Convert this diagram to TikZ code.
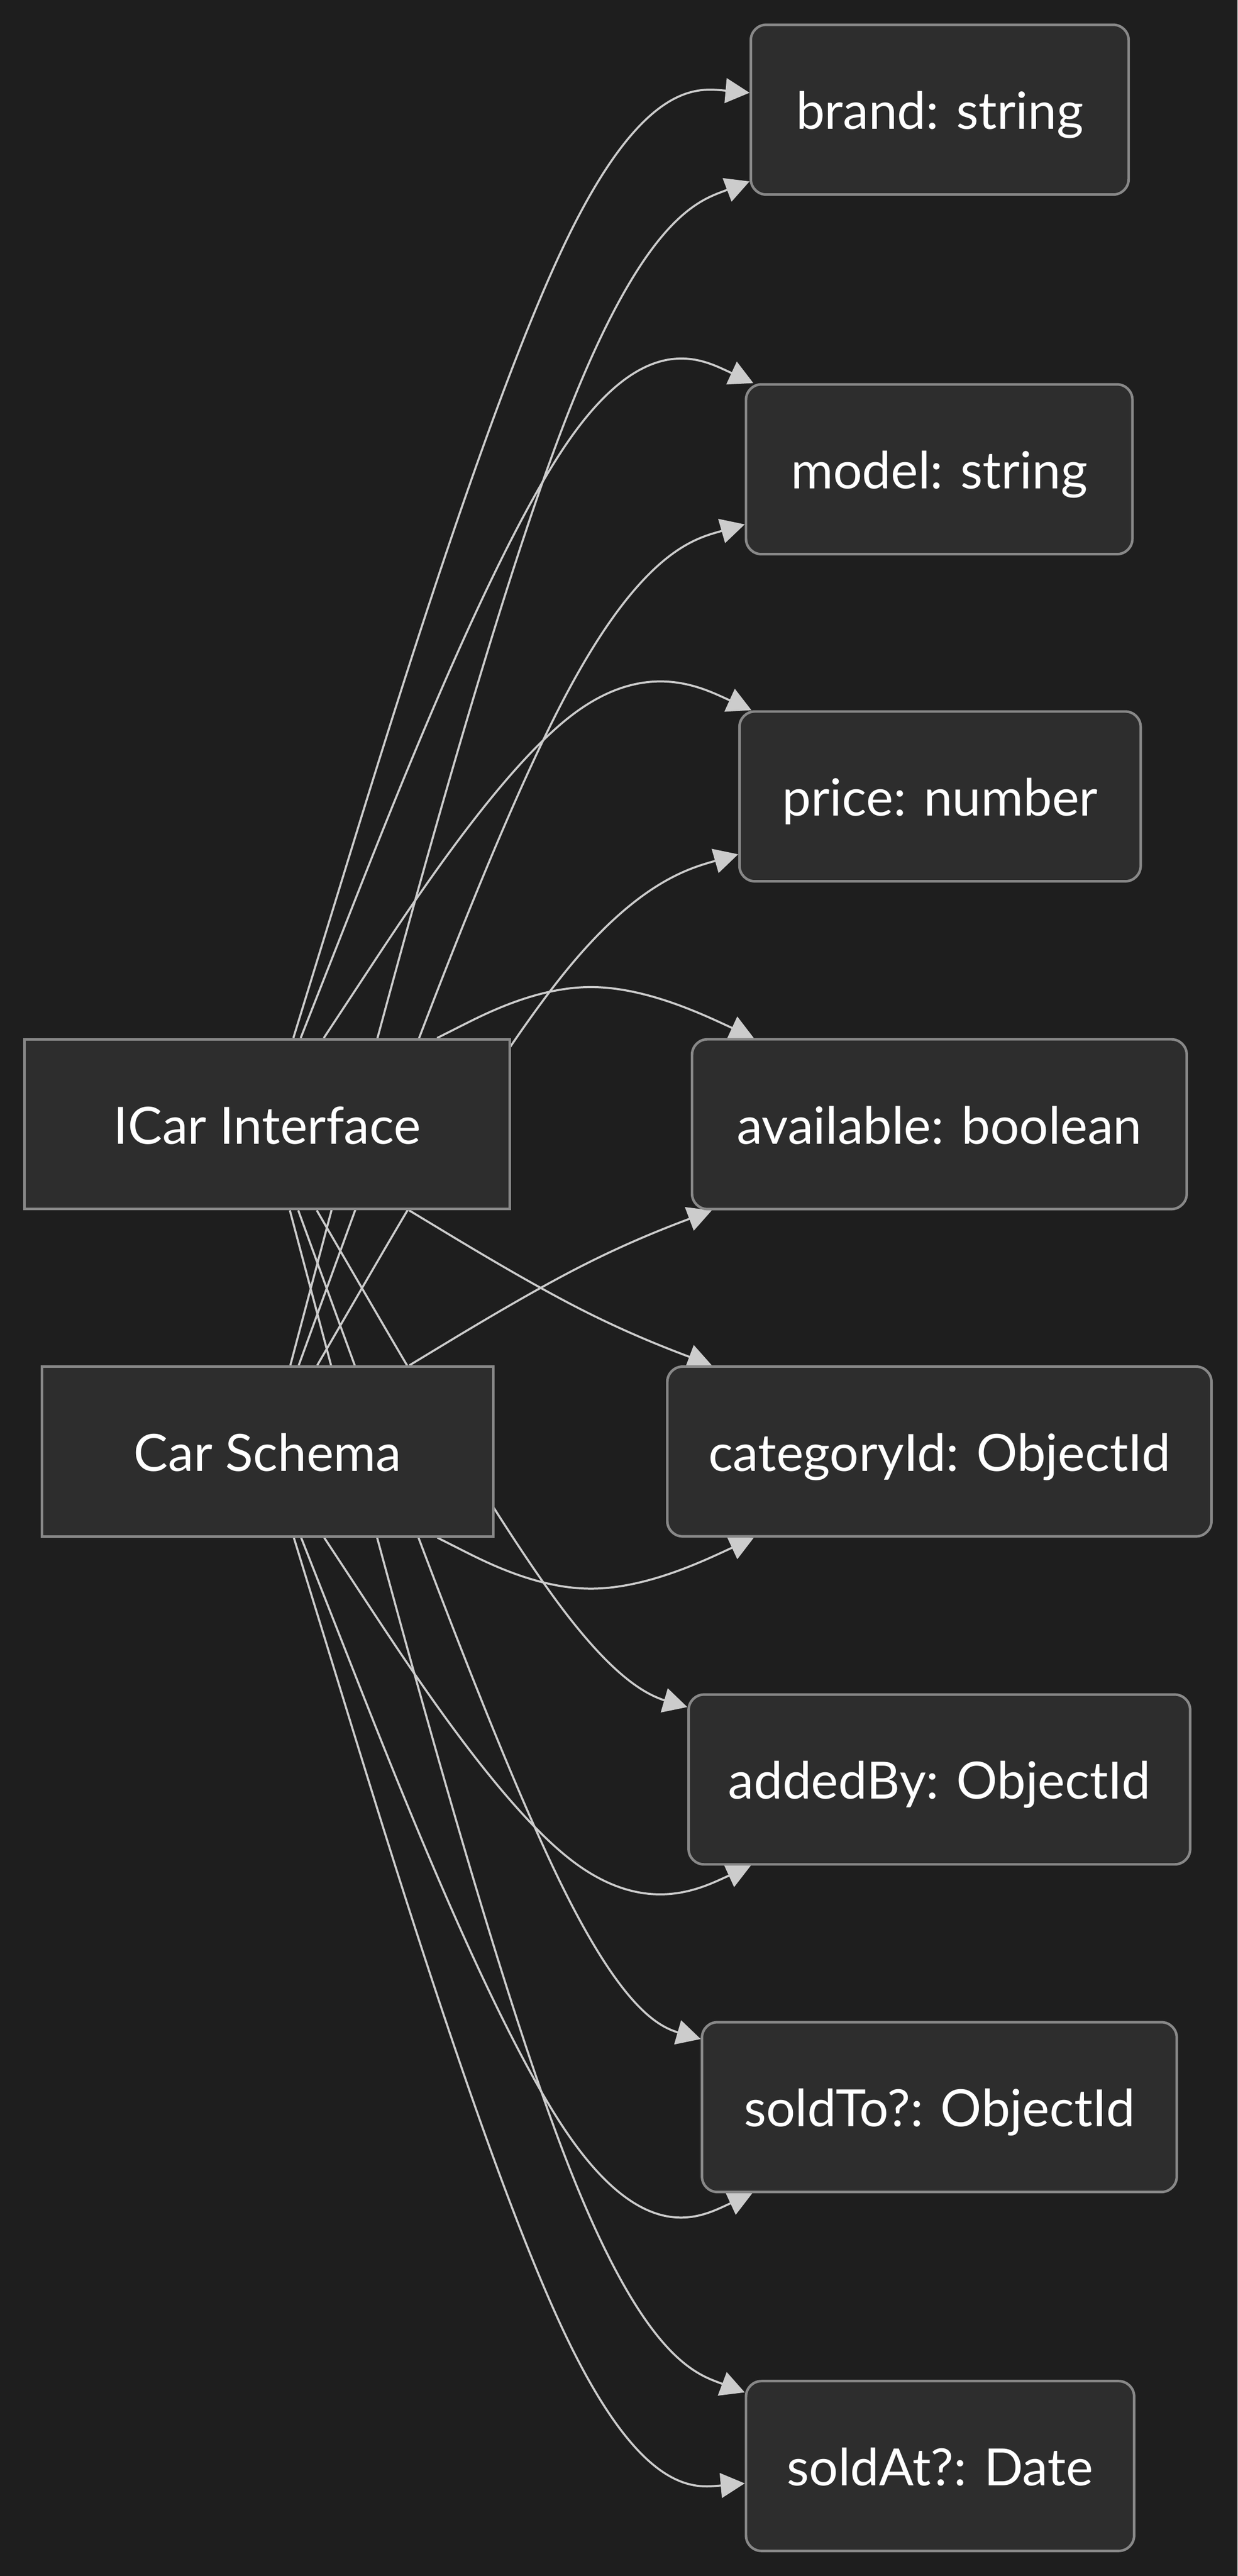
\documentclass[tikz,border=0pt]{standalone}
\usepackage{fontspec}
\setmainfont{Lato}
\usetikzlibrary{calc,arrows.meta}

\definecolor{canvasbg}{HTML}{1E1E1E}
\definecolor{boxfill}{HTML}{2D2D2D}
\definecolor{boxline}{HTML}{888888}
\definecolor{linkline}{HTML}{CCCCCC}

\pgfdeclarelayer{canvas}
\pgfdeclarelayer{links}
\pgfsetlayers{canvas,links,main}

\begin{document}
\begin{tikzpicture}[
    box/.style={draw=boxline,fill=boxfill,line width=2.1pt,text=white,
      minimum height=4.94cm,inner sep=0pt,text height=1.3cm,text depth=0.16cm,
      font=\fontsize{42.5pt}{51pt}\selectfont},
    field/.style={box,rounded corners=0.45cm},
    link/.style={draw=linkline,line width=1.7pt,
      -{Triangle[length=0.7cm,width=0.72cm]}},
  ]
  \begin{pgfonlayer}{canvas}
    \fill[canvasbg] (0,0) rectangle (36,-74.93);
  \end{pgfonlayer}
  \useasboundingbox (0,0) rectangle (36,-74.93);

  % sources
  \node[box,minimum width=14.12cm] (icar) at (7.77,-32.70) {ICar Interface};
  \node[box,minimum width=13.13cm] (cs) at (7.785,-42.22) {Car Schema};

  % fields
  \node[field,minimum width=10.99cm] (brand) at (27.335,-3.19) {brand: string};
  \node[field,minimum width=11.24cm] (model) at (27.32,-13.65) {model: string};
  \node[field,minimum width=11.67cm] (price) at (27.345,-23.165) {price: number};
  \node[field,minimum width=14.39cm] (available) at (27.325,-32.70) {available: boolean};
  \node[field,minimum width=15.83cm] (category) at (27.325,-42.22) {categoryId: ObjectId};
  \node[field,minimum width=14.59cm] (addedby) at (27.325,-51.76) {addedBy: ObjectId};
  \node[field,minimum width=13.81cm] (soldto) at (27.325,-61.29) {soldTo?: ObjectId};
  \node[field,minimum width=11.29cm] (soldat) at (27.345,-71.73) {soldAt?: Date};

  % links: source / height of the bend point / field
  \begin{pgfonlayer}{links}
  \foreach \src/\dy/\tgt in {icar/-2.28/brand, cs/-7.05/brand,
      icar/-8.93/model, cs/-16.55/model,
      icar/-18.50/price, cs/-26.10/price,
      icar/-27.97/available, cs/-36.56/available,
      icar/-38.36/category, cs/-46.95/category,
      icar/-48.82/addedby, cs/-56.42/addedby,
      icar/-58.37/soldto, cs/-65.99/soldto,
      icar/-67.87/soldat, cs/-72.64/soldat}{
    \coordinate (dm) at (17.12,\dy);
    \path (dm) -- (\src) coordinate[pos=1] (p0);
    \path (dm) -- (\tgt) coordinate[pos=1] (p2);
    \draw[link] (p0) -- ($(p0)!0.16667!(dm)$)
      .. controls ($(p0)!0.33333!(dm)$) and ($(p0)!0.66667!(dm)$)
      .. ($0.66667*(dm)+0.16667*(p0)+0.16667*(p2)$)
      .. controls ($(dm)!0.33333!(p2)$) and ($(dm)!0.66667!(p2)$)
      .. ($(dm)!0.83333!(p2)$) -- (p2);
  }
  \end{pgfonlayer}
\end{tikzpicture}
\end{document}
